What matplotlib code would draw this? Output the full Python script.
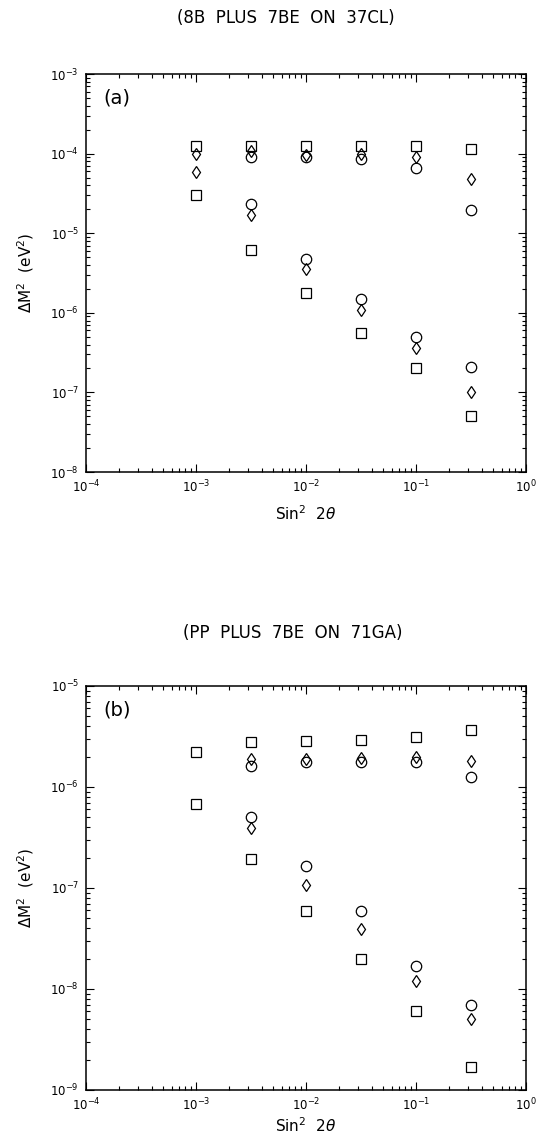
import numpy as np
import matplotlib.pyplot as plt

# sin^2 2theta grid, same for both panels
sin2 = [1e-3, 3.16e-3, 1e-2, 3.16e-2, 1e-1, 3.16e-1]

# panel (a): 8B plus 7Be on 37Cl
a_sq_hi = [1.25e-4, 1.25e-4, 1.25e-4, 1.25e-4, 1.25e-4, 1.15e-4]
a_di_hi = [1.0e-4, 1.07e-4, 9.5e-5, 1.0e-4, 9.1e-5, 4.8e-5]
a_ci_hi = [np.nan, 9.1e-5, 9.0e-5, 8.5e-5, 6.6e-5, 1.95e-5]
a_sq_lo = [3.0e-5, 6.2e-6, 1.8e-6, 5.6e-7, 2.0e-7, 5.0e-8]
a_di_lo = [5.8e-5, 1.7e-5, 3.6e-6, 1.1e-6, 3.6e-7, 1.0e-7]
a_ci_lo = [np.nan, 2.35e-5, 4.8e-6, 1.5e-6, 5.0e-7, 2.1e-7]

# panel (b): pp plus 7Be on 71Ga
b_sq_hi = [2.2e-6, 2.8e-6, 2.85e-6, 2.9e-6, 3.1e-6, 3.7e-6]
b_di_hi = [np.nan, 1.9e-6, 1.9e-6, 1.95e-6, 2.0e-6, 1.8e-6]
b_ci_hi = [np.nan, 1.6e-6, 1.75e-6, 1.75e-6, 1.75e-6, 1.25e-6]
b_sq_lo = [6.8e-7, 1.95e-7, 5.9e-8, 2.0e-8, 6.0e-9, 1.7e-9]
b_di_lo = [np.nan, 3.9e-7, 1.08e-7, 3.9e-8, 1.2e-8, 5.0e-9]
b_ci_lo = [np.nan, 5.0e-7, 1.65e-7, 5.9e-8, 1.7e-8, 7.0e-9]

titles = ['(8B  PLUS  7BE  ON  37CL)', '(PP  PLUS  7BE  ON  71GA)']
panel_tags = ['(a)', '(b)']
ylims = [(1e-8, 1e-3), (1e-9, 1e-5)]

fig = plt.figure(figsize=(5.37, 11.46), dpi=100)
ax_a = fig.add_axes([0.160, 0.5881, 0.8194, 0.3473])
ax_b = fig.add_axes([0.160, 0.0489, 0.8194, 0.3525])

panels = [
    (ax_a, a_sq_hi, a_di_hi, a_ci_hi, a_sq_lo, a_di_lo, a_ci_lo),
    (ax_b, b_sq_hi, b_di_hi, b_ci_hi, b_sq_lo, b_di_lo, b_ci_lo),
]
xlabel_pads = [6, 2]

for i, (ax, sq_hi, di_hi, ci_hi, sq_lo, di_lo, ci_lo) in enumerate(panels):
    for ys in (sq_hi, sq_lo):
        ax.plot(sin2, ys, ls='none', marker='s', ms=7, mfc='none', mec='k', mew=0.9)
    for ys in (ci_hi, ci_lo):
        ax.plot(sin2, ys, ls='none', marker='o', ms=7.5, mfc='none', mec='k', mew=0.9)
    for ys in (di_hi, di_lo):
        ax.plot(sin2, ys, ls='none', marker='d', ms=6.5, mfc='none', mec='k', mew=0.9)

    ax.set_xscale('log')
    ax.set_yscale('log')
    ax.set_xlim(1e-4, 1)
    ax.set_ylim(*ylims[i])
    ax.tick_params(which='both', direction='in', top=True, right=True, labelsize=8.5, width=0.8)
    ax.tick_params(which='major', length=6, pad=5)
    ax.tick_params(which='minor', length=3)
    for s in ax.spines.values():
        s.set_linewidth(1.1)

    ax.set_xlabel(r'Sin$^2$  2$\theta$', fontsize=11, labelpad=xlabel_pads[i])
    ax.set_ylabel(r'$\Delta$M$^2$  (eV$^2$)', fontsize=11, labelpad=10)
    ax.text(0.04, 0.94, panel_tags[i], transform=ax.transAxes, fontsize=14, va='center', ha='left')

fig.text(0.532, 0.984, titles[0], fontsize=12, ha='center', va='center')
fig.text(0.545, 0.4476, titles[1], fontsize=12, ha='center', va='center')

fig.savefig('out.png', dpi=100)
